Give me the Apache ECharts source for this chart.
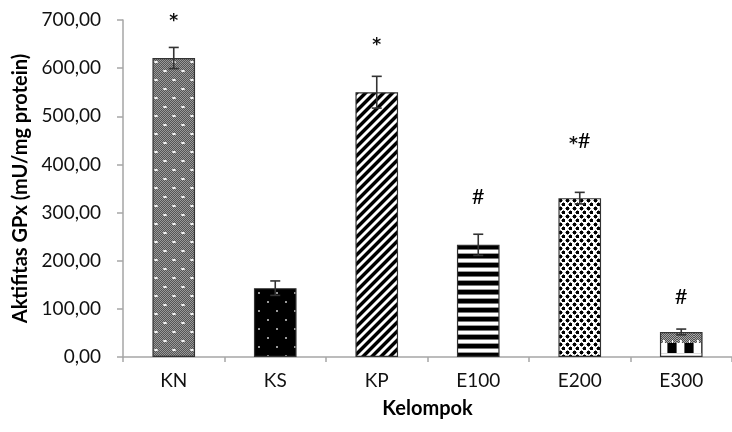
<!DOCTYPE html>
<html>
<head>
<meta charset="utf-8">
<script src="https://cdn.jsdelivr.net/npm/echarts@6/dist/echarts.min.js"></script>
<style>
html,body{margin:0;padding:0;background:#fff;}
#chart{width:732px;height:432px;}
</style>
</head>
<body>
<div id="chart"></div>
<script>
// ---- data ----
var categories = ['KN', 'KS', 'KP', 'E100', 'E200', 'E300'];
var means = [621, 143, 550, 233, 330, 52];
var errors = [22, 15, 33, 22, 12, 6];
var annotTexts = ['*', '', '*', '#', '*#', '#'];
var annotValues = [702, null, 654, 333, 448, 124];
var yTicks = [0, 100, 200, 300, 400, 500, 600, 700];

// ---- patterns ----
function tile(w, h, fn) {
  var c = document.createElement('canvas');
  c.width = w; c.height = h;
  var ctx = c.getContext('2d');
  fn(ctx, w, h);
  return c;
}
function px(ctx, x, y, col) { ctx.fillStyle = col; ctx.fillRect(x, y, 1, 1); }

var patKN = tile(18, 18, function (ctx, w, h) {
  for (var y = 0; y < h; y++) for (var x = 0; x < w; x++)
    px(ctx, x, y, (x + y) % 2 ? '#555' : '#999');
  ctx.fillStyle = '#f4f4f4';
  ctx.fillRect(3, 3, 2, 2); ctx.fillRect(12, 12, 2, 2);
  ctx.fillStyle = '#c8c8c8';
  ctx.fillRect(2, 3, 1, 2); ctx.fillRect(5, 3, 1, 2); ctx.fillRect(11, 12, 1, 2); ctx.fillRect(14, 12, 1, 2);
});
var patKS = tile(18, 18, function (ctx, w, h) {
  ctx.fillStyle = '#000'; ctx.fillRect(0, 0, w, h);
  ctx.fillStyle = '#9a9a9a';
  ctx.fillRect(4, 4, 2, 2); ctx.fillRect(13, 13, 2, 2);
});
var patKP = tile(9, 9, function (ctx, w, h) {
  for (var y = 0; y < h; y++) for (var x = 0; x < w; x++) {
    var d = (x + y) % 9;
    var col = d < 4 ? '#000' : (d === 4 || d === 8 ? '#8a8a8a' : '#fff');
    px(ctx, x, y, col);
  }
});
var patE100 = tile(4, 9, function (ctx, w, h) {
  var cols = ['#000', '#000', '#000', '#000', '#777', '#fff', '#fff', '#fff', '#999'];
  for (var y = 0; y < h; y++) { ctx.fillStyle = cols[y]; ctx.fillRect(0, y, w, 1); }
});
var patE200 = tile(7, 8, function (ctx, w, h) {
  ctx.fillStyle = '#fff'; ctx.fillRect(0, 0, w, h);
  function dot(x, y) {
    ctx.fillStyle = '#000'; ctx.fillRect(x, y, 3, 3);
    ctx.fillStyle = '#777';
    ctx.fillRect(x + 1, y - 1, 1, 1); ctx.fillRect(x + 1, y + 3, 1, 1);
    ctx.fillRect(x - 1, y + 1, 1, 1); ctx.fillRect(x + 3, y + 1, 1, 1);
  }
  dot(1, 1); dot(4, 5);
});
var patE300 = tile(17, 30, function (ctx, w, h) {
  ctx.fillStyle = '#fff'; ctx.fillRect(0, 0, w, h);
  for (var y = 0; y < 11; y++) for (var x = 0; x < w; x++)
    px(ctx, x, y, (x + y) % 2 ? '#505050' : '#a8a8a8');
  for (var y2 = 8; y2 < 11; y2++) { px(ctx, 3, y2, '#fff'); px(ctx, 4, y2, '#eee'); px(ctx, 12, y2, '#fff'); }
  ctx.fillStyle = '#000'; ctx.fillRect(8, 11, 8, 10);
  ctx.fillStyle = '#666'; ctx.fillRect(7, 11, 1, 10); ctx.fillRect(16, 11, 1, 10);
  ctx.fillStyle = '#ddd'; ctx.fillRect(0, 21, 17, 1);
});
var patterns = [patKN, patKS, patKP, patE100, patE200, patE300];

function buildBarData(offsets) {
  return means.map(function (v, i) {
    var col = { image: patterns[i], repeat: 'repeat' };
    if (offsets && offsets[i]) { col.x = offsets[i][0]; col.y = offsets[i][1]; }
    return { value: v, itemStyle: { color: col } };
  });
}

var FONT = 'Lato, "Open Sans", sans-serif';
var chart = echarts.init(document.getElementById('chart'));
var option = {
  animation: false,
  backgroundColor: '#fff',
  grid: { left: 123, right: -11, top: 20, bottom: 75, containLabel: false },
  xAxis: {
    type: 'category',
    data: categories,
    name: 'Kelompok',
    nameLocation: 'middle',
    nameGap: 42,
    nameTextStyle: { fontFamily: FONT, fontWeight: 'bold', fontSize: 20, color: '#000' },
    axisLine: { lineStyle: { color: '#a6a6a6', width: 1.5 } },
    axisTick: { show: true, alignWithLabel: false, length: 5, lineStyle: { color: '#a6a6a6', width: 1.5 } },
    axisLabel: { fontFamily: FONT, fontSize: 19, color: '#111', margin: 14 }
  },
  yAxis: {
    type: 'value',
    min: 0, max: 700, interval: 100,
    name: 'Aktifitas GPx (mU/mg protein)',
    nameLocation: 'middle',
    nameGap: 90,
    nameTextStyle: { fontFamily: FONT, fontWeight: 'bold', fontSize: 20, color: '#000' },
    axisLine: { show: true, lineStyle: { color: '#a6a6a6', width: 1.5 } },
    axisTick: { show: true, length: 6, lineStyle: { color: '#a6a6a6', width: 1.5 } },
    splitLine: { show: false },
    axisLabel: {
      fontFamily: FONT, fontSize: 19, color: '#111', margin: 22,
      formatter: function (v) { return v.toFixed(2).replace('.', ','); }
    }
  },
  series: [
    {
      type: 'bar',
      data: buildBarData(null),
      barWidth: '42%',
      itemStyle: { borderColor: '#333', borderWidth: 1.2 }
    },
    {
      type: 'custom',
      clip: false,
      data: means.map(function (m, i) { return [i, m - errors[i], m + errors[i]]; }),
      renderItem: function (params, api) {
        var lo = api.coord([api.value(0), api.value(1)]);
        var hi = api.coord([api.value(0), api.value(2)]);
        var cap = 5;
        var st = { stroke: '#333', lineWidth: 1.6 };
        return {
          type: 'group',
          children: [
            { type: 'line', shape: { x1: hi[0], y1: hi[1], x2: lo[0], y2: lo[1] }, style: st },
            { type: 'line', shape: { x1: hi[0] - cap, y1: hi[1], x2: hi[0] + cap, y2: hi[1] }, style: st },
            { type: 'line', shape: { x1: lo[0] - cap, y1: lo[1], x2: lo[0] + cap, y2: lo[1] }, style: st }
          ]
        };
      },
      z: 5
    },
    {
      type: 'custom',
      clip: false,
      data: annotValues.map(function (v, i) { return [i, v == null ? 0 : v, annotTexts[i]]; }),
      renderItem: function (params, api) {
        var i = params.dataIndex;
        if (!annotTexts[i]) return null;
        var p = api.coord([i, annotValues[i]]);
        var rt = annotTexts[i].split('').map(function (ch) {
          return ch === '*' ? '{s|*}' : '{h|' + ch + '}';
        }).join('');
        return {
          type: 'text',
          style: {
            x: p[0], y: p[1], text: rt,
            fontFamily: FONT, fontSize: 22, fill: '#000',
            align: 'center', verticalAlign: 'middle',
            rich: {
              s: { fontFamily: '"DejaVu Sans", sans-serif', fontSize: 17, fontWeight: 'bold', fill: '#111', padding: [6, 0, 0, 0] },
              h: { fontFamily: FONT, fontSize: 22, fill: '#000' }
            }
          }
        };
      },
      z: 6
    }
  ]
};
chart.setOption(option);

// align pattern tiles to each bar's top-left corner
var data = chart.getModel().getSeriesByIndex(0).getData();
var offsets = means.map(function (v, i) {
  var l = data.getItemLayout(i);
  return [Math.round(Math.min(l.x, l.x + l.width)), Math.round(Math.min(l.y, l.y + l.height))];
});
chart.setOption({ series: [{ data: buildBarData(offsets) }] });
</script>
</body>
</html>
